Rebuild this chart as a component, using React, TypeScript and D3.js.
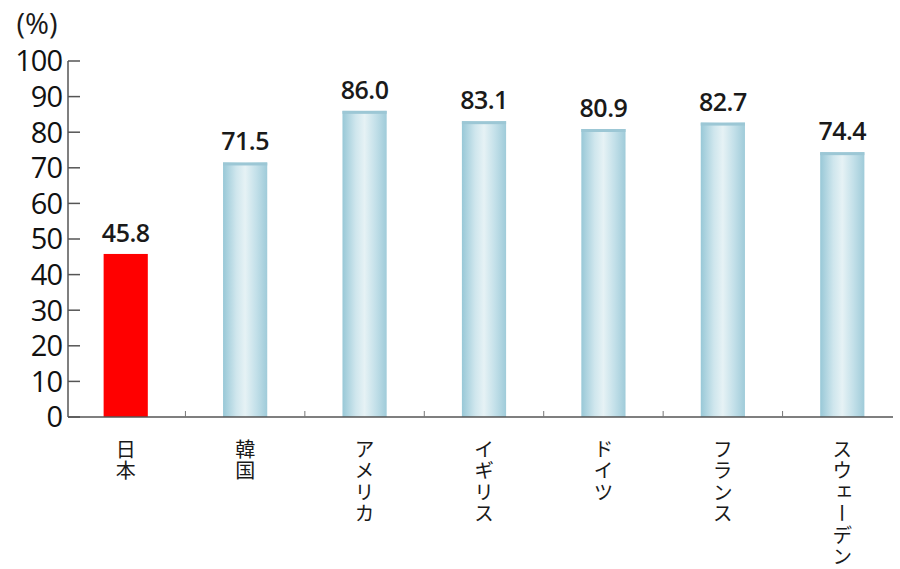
import React from "react";
import * as d3 from "d3";

const categories = ["日本", "韓国", "アメリカ", "イギリス", "ドイツ", "フランス", "スウェーデン"];
const values = [45.8, 71.5, 86.0, 83.1, 80.9, 82.7, 74.4];
const yTicks = [0, 10, 20, 30, 40, 50, 60, 70, 80, 90, 100];

const W = 900;
const H = 569;

export default function App() {
  const x = d3.scaleBand<string>().domain(categories).range([66, 902]).paddingInner(0.63).paddingOuter(0.315);
  const y = d3.scaleLinear().domain([0, 100]).range([417, 61]);
  const step = x.step();
  const numFont = "'Open Sans', 'Noto Sans', sans-serif";

  return (
    <svg width={W} height={H} style={{ position: "absolute", left: 0, top: 0, background: "#fff" }}>
      <defs>
        <linearGradient id="barGrad" x1="0" x2="1" y1="0" y2="0">
          <stop offset="0" stopColor="#98c8d7" />
          <stop offset="0.3" stopColor="#cfe6ed" />
          <stop offset="0.5" stopColor="#e6f2f5" />
          <stop offset="0.75" stopColor="#c3e0e9" />
          <stop offset="1" stopColor="#9fcbd9" />
        </linearGradient>
      </defs>
      <text x={37} y={34} fontSize={29} fontFamily={numFont} fill="#1a1a1a" textAnchor="middle">(%)</text>
      {/* y axis */}
      <line x1={68} x2={68} y1={y(100)} y2={y(0)} stroke="#555" strokeWidth={1.5} />
      {yTicks.map((t) => (
        <g key={t}>
          <line x1={68} x2={80} y1={y(t)} y2={y(t)} stroke="#555" strokeWidth={1.5} />
          <text x={62} y={y(t)} dy="0.36em" textAnchor="end" fontSize={29} fontFamily={numFont} fill="#111" letterSpacing={-1}>
            {t}
          </text>
        </g>
      ))}
      {/* bars */}
      {categories.map((c, i) => {
        const bx = x(c) as number;
        const bw = x.bandwidth();
        const v = values[i];
        const isJapan = i === 0;
        return (
          <g key={c}>
            <rect x={bx} y={y(v)} width={bw} height={y(0) - y(v)} fill={isJapan ? "#ff0000" : "url(#barGrad)"} />
            {!isJapan && <rect x={bx} y={y(v)} width={bw} height={3} fill="#9cc7d5" />}
            <text x={bx + bw / 2} y={y(v) - 12} textAnchor="middle" fontSize={25} fontWeight={600} fontFamily={numFont} fill="#1a1a1a" letterSpacing={-0.5}>
              {v.toFixed(1)}
            </text>
            <text
              x={bx + bw / 2}
              y={439}
              fontSize={20}
              fontFamily="'Noto Sans CJK JP', sans-serif"
              fill="#1a1a1a"
              style={{ writingMode: "vertical-rl" as any }}
              letterSpacing={1.5}
            >
              {c}
            </text>
          </g>
        );
      })}
      {/* x axis */}
      <line x1={68} x2={893} y1={y(0)} y2={y(0)} stroke="#555" strokeWidth={1.5} />
      {categories.slice(1).map((c) => {
        const bx = (x(c) as number) + x.bandwidth() / 2 - step / 2;
        return <line key={c} x1={bx} x2={bx} y1={y(0)} y2={y(0) - 6} stroke="#777" strokeWidth={1} />;
      })}
    </svg>
  );
}
